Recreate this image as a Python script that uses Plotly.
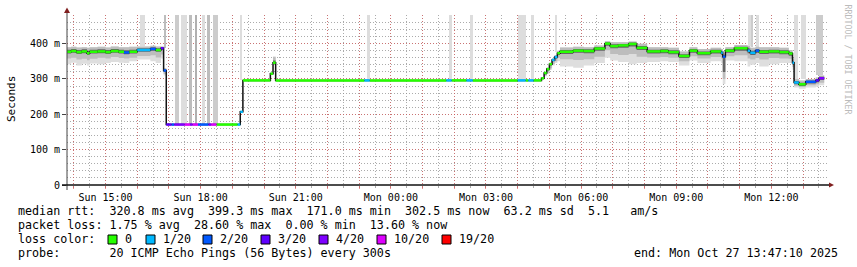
import pandas as pd
import plotly.graph_objects as go

D1 = "2025-10-26 "
D2 = "2025-10-27 "

# ---------------- data (median rtt in ms, loss out of 20, smoke bands in ms) ----------------
times = [D1 + s for s in ["13:45", "13:55", "14:05", "14:15", "14:25", "14:30", "14:45", "15:00", "15:10",
                          "15:25", "15:35", "15:45", "16:00", "16:25", "16:35", "16:45", "16:50", "16:55",
                          "17:05", "17:10", "17:30", "17:40", "17:45", "17:55", "18:15", "18:20", "18:30",
                          "19:10", "19:15", "19:20", "20:12", "20:17", "20:22", "23:10", "23:20"]] + \
        [D2 + s for s in ["01:45", "01:55", "02:23", "02:35", "04:00", "04:15", "04:20", "04:30", "04:45",
                          "04:50", "04:55", "05:00", "05:05", "05:10", "05:15", "05:20", "05:45", "06:05",
                          "06:25", "06:45", "06:55", "07:10", "07:30", "07:45", "08:05", "08:30", "08:45",
                          "09:05", "09:25", "09:40", "10:05", "10:25", "10:28", "10:33", "10:50", "11:15",
                          "11:20", "11:30", "11:37", "11:55", "12:15", "12:33", "12:40", "12:43", "12:52",
                          "13:05", "13:24", "13:30"]]
data_end = D2 + "13:40"

median_ms = [377, 379, 376, 378, 373, 377, 378, 376, 379,
             377, 375, 377, 382, 385, 382, 387, 324, 171,
             171, 171, 171, 171, 171, 171, 171, 171, 171,
             171, 207, 296, 315, 346, 296, 296, 296,
             296, 296, 296, 296, 296, 296, 296, 296, 302,
             317, 328, 342, 354, 362, 373, 377, 380, 379,
             386, 400, 393, 395, 399, 388, 378, 379, 376,
             365, 380, 373, 378, 374, 363, 380, 387, 380,
             374, 380, 377, 378, 376, 372, 346, 290, 285,
             292, 296, 302]

loss = [0, 0, 0, 0, 0, 0, 0, 0, 0,
        0, 2, 0, 1, 2, 0, 3, 2, 3,
        2, 4, 10, 4, 10, 2, 4, 10, 0,
        1, 1, 0, 0, 0, 0, 1, 0,
        1, 0, 1, 0, 1, 0, 1, 0, 0,
        0, 0, 0, 1, 1, 0, 0, 0, 0,
        0, 0, 0, 0, 0, 0, 0, 0, 0,
        0, 0, 0, 0, 1, 2, 0, 0, 1,
        1, 2, 0, 0, 0, 0, 1, 1, 0,
        2, 3, 4]

# highest ping (outer smoke top)
smoke_hi = [390, 391, 389, 390, 388, 390, 391, 389, 392,
            390, 390, 391, 392, 394, 392, 392, 330, 171,
            171, 171, 171, 171, 171, 171, 171, 171, 171,
            171, 207, 296, 318, 363, 296, 296, 296,
            296, 296, 296, 296, 296, 296, 296, 296, 305,
            320, 332, 346, 358, 368, 380, 389, 391, 390,
            395, 407, 404, 404, 406, 400, 390, 390, 388,
            378, 390, 385, 388, 385, 372, 390, 396, 393,
            388, 391, 390, 390, 388, 382, 358, 300, 296,
            300, 304, 310]

# dark core of the smoke (upper / lower edge)
smoke_hi_in = [383, 385, 382, 384, 380, 383, 384, 382, 385,
               383, 381, 383, 387, 390, 387, 390, 327, 171,
               171, 171, 171, 171, 171, 171, 171, 171, 171,
               171, 207, 296, 316, 352, 296, 296, 296,
               296, 296, 296, 296, 296, 296, 296, 296, 303,
               318, 330, 344, 356, 364, 376, 382, 385, 384,
               390, 404, 398, 399, 403, 393, 383, 384, 381,
               370, 385, 378, 383, 379, 367, 385, 391, 386,
               380, 385, 382, 383, 381, 376, 350, 294, 289,
               296, 300, 306]

smoke_in = [372, 374, 371, 373, 368, 372, 373, 371, 374,
            372, 370, 372, 377, 380, 377, 382, 320, 171,
            171, 171, 171, 171, 171, 171, 171, 171, 171,
            171, 207, 296, 315, 346, 296, 296, 296,
            296, 296, 296, 296, 296, 296, 296, 296, 300,
            313, 324, 338, 350, 357, 368, 371, 374, 373,
            380, 394, 387, 388, 392, 382, 372, 373, 370,
            359, 374, 367, 372, 368, 320, 374, 380, 373,
            368, 374, 371, 372, 370, 366, 340, 285, 280,
            287, 291, 297]

smoke_mid = [358, 360, 355, 357, 353, 357, 360, 358, 362,
             359, 358, 360, 365, 367, 361, 369, 314, 171,
             171, 171, 171, 171, 171, 171, 171, 171, 171,
             171, 207, 296, 315, 346, 296, 296, 296,
             296, 296, 296, 296, 296, 296, 296, 296, 299,
             310, 318, 330, 342, 350, 360, 356, 354, 356,
             363, 381, 371, 368, 371, 363, 361, 362, 360,
             350, 364, 358, 362, 358, 300, 364, 367, 358,
             355, 359, 355, 359, 358, 357, 334, 281, 277,
             282, 285, 289]

smoke_out = [342, 346, 338, 343, 338, 344, 342, 345, 348,
             346, 345, 350, 355, 350, 345, 358, 310, 171,
             171, 171, 171, 171, 171, 171, 171, 171, 171,
             171, 207, 296, 315, 346, 296, 296, 296,
             296, 296, 296, 296, 296, 296, 296, 296, 298,
             308, 315, 326, 338, 345, 350, 335, 332, 338,
             345, 360, 352, 348, 342, 345, 348, 350, 348,
             338, 352, 345, 350, 345, 286, 352, 350, 335,
             340, 345, 335, 342, 345, 345, 326, 276, 272,
             276, 278, 282]

# periods with lost pings (drawn as grey columns up to the top of the graph)
lossbar_start = [D1 + s for s in ["16:05", "16:50", "17:12", "17:23", "17:38", "17:49", "18:03", "18:13",
                                  "18:23", "19:15", "23:15"]] + \
                [D2 + s for s in ["01:50", "02:30", "04:00", "04:25", "05:10", "11:15", "11:21", "11:31",
                                  "12:43", "12:57", "13:25"]]
lossbar_end = [D1 + s for s in ["16:15", "16:55", "17:20", "17:34", "17:44", "17:54", "18:09", "18:18",
                                "18:33", "19:18", "23:20"]] + \
              [D2 + s for s in ["01:55", "02:35", "04:15", "04:30", "05:15", "11:21", "11:26", "11:37",
                                "12:50", "13:06", "13:37"]]
lossbar_bottom = [392, 387, 171, 171, 171, 171, 171, 171, 171, 296, 296,
                  296, 296, 296, 296, 375, 392, 390, 391, 300, 300, 310]
lossbar_lost = [1, 3, 2, 1, 3, 4, 1, 3, 2, 1, 1,
                1, 1, 1, 1, 1, 1, 2, 1, 1, 1, 2]

loss_levels = [0, 1, 2, 3, 4, 10, 19]
loss_labels = ["0", "1/20", "2/20", "3/20", "4/20", "10/20", "19/20"]
loss_colors = ["#26ff00", "#00b8ff", "#0059ff", "#5e00ff", "#7e00ff", "#dd00ff", "#ff0000"]

tick_times = [D1 + "15:00", D1 + "18:00", D1 + "21:00", D2 + "00:00",
              D2 + "03:00", D2 + "06:00", D2 + "09:00", D2 + "12:00"]
tick_labels = ["Sun 15:00", "Sun 18:00", "Sun 21:00", "Mon 00:00",
               "Mon 03:00", "Mon 06:00", "Mon 09:00", "Mon 12:00"]

y_tick_vals = [0, 100, 200, 300, 400]
y_tick_labels = ["0", "100 m", "200 m", "300 m", "400 m"]

stats_line1 = "median rtt:  320.8 ms avg  399.3 ms max  171.0 ms min  302.5 ms now  63.2 ms sd  5.1   am/s"
stats_line2 = "packet loss: 1.75 % avg  28.60 % max  0.00 % min  13.60 % now"
probe_line = "probe:       20 ICMP Echo Pings (56 Bytes) every 300s"
end_line = "end: Mon Oct 27 13:47:10 2025"

X_START, X_END = D1 + "13:47:10", D2 + "13:47:10"
Y_MAX = 481

# ---------------- figure ----------------
W, H = 857, 267
L, T, R, B = 67, 15, 828, 185
MONO = "DejaVu Sans Mono"


def px(x):
    return (x - L) / (R - L)


def py(y):
    return (B - y) / (B - T)


def nb(s):
    return s.replace(" ", "\u00a0")


t = list(pd.to_datetime(times))
t_end = pd.Timestamp(data_end)
xs = t + [t_end]


def ext(a):
    return list(a) + [a[-1]]


fig = go.Figure()

# loss columns
shade_for_lost = {1: "#dddddd", 2: "#cccccc", 3: "#bdbdbd", 4: "#b0b0b0"}
bs = pd.to_datetime(lossbar_start)
be = pd.to_datetime(lossbar_end)
fig.add_trace(go.Bar(
    x=[s + (e - s) / 2 for s, e in zip(bs, be)],
    y=[Y_MAX + 20 - b for b in lossbar_bottom],
    base=lossbar_bottom,
    width=[(e - s).total_seconds() * 1000 for s, e in zip(bs, be)],
    marker=dict(color=[shade_for_lost[n] for n in lossbar_lost], line=dict(width=0)),
    hoverinfo="skip",
))

# smoke layers (outer light -> inner dark)
for lo, hi, col in [(smoke_out, smoke_hi, "#dedede"), (smoke_mid, smoke_hi, "#bdbdbd"),
                    (smoke_in, smoke_hi_in, "#646464")]:
    fig.add_trace(go.Scatter(x=xs, y=ext(lo), mode="lines", line=dict(width=0, shape="hv"),
                             hoverinfo="skip"))
    fig.add_trace(go.Scatter(x=xs, y=ext(hi), mode="lines", line=dict(width=0, shape="hv"),
                             fill="tonexty", fillcolor=col, hoverinfo="skip"))

# median step line
fig.add_trace(go.Scatter(x=xs, y=ext(median_ms), mode="lines",
                         line=dict(color="#111111", width=1.5, shape="hv"), hoverinfo="skip"))

# loss-coloured median segments
for lvl, col in zip(loss_levels, loss_colors):
    sx, sy = [], []
    for i, (m, lo_) in enumerate(zip(median_ms, loss)):
        if lo_ == lvl:
            sx += [xs[i], xs[i + 1], None]
            sy += [m, m, None]
    if sx:
        fig.add_trace(go.Scatter(x=sx, y=sy, mode="lines", line=dict(color=col, width=2.5),
                                 hoverinfo="skip"))

# x ticks: every hour (red grid), labels every 3 hours
lab_map = {pd.Timestamp(a): b for a, b in zip(tick_times, tick_labels)}
hours = pd.date_range(D1 + "14:00", D2 + "13:00", freq="h")
red = "rgba(222,79,79,0.6)"
grey = "rgba(143,143,143,0.75)"

fig.update_xaxes(
    type="date", range=[X_START, X_END],
    tickmode="array", tickvals=list(hours), ticktext=[lab_map.get(h, "") for h in hours],
    showgrid=True, gridcolor=red, griddash="1px,2px", gridwidth=1,
    ticks="outside", ticklen=3, tickcolor=red,
    tickfont=dict(family=MONO, size=10, color="#000000"),
    minor=dict(dtick=1800000, tick0=D1 + "00:00", showgrid=True, gridcolor=grey,
               griddash="1px,2px", ticks="outside", ticklen=2, tickcolor=grey),
    showline=False, zeroline=False, fixedrange=True,
)
fig.update_yaxes(
    range=[0, Y_MAX], tickmode="array", tickvals=y_tick_vals, ticktext=y_tick_labels,
    showgrid=True, gridcolor=red, griddash="1px,2px", gridwidth=1,
    ticks="outside", ticklen=4, tickcolor="#444444",
    tickfont=dict(family=MONO, size=10, color="#000000"),
    minor=dict(dtick=20, tick0=0, showgrid=True, gridcolor=grey, griddash="1px,2px"),
    showline=False, zeroline=False, fixedrange=True,
)

shapes = [
    # axes
    dict(type="line", xref="paper", yref="paper", x0=px(67), x1=px(67), y0=py(190), y1=py(11),
         line=dict(color="#444444", width=1)),
    dict(type="line", xref="paper", yref="paper", x0=px(62), x1=px(830), y0=py(185), y1=py(185),
         line=dict(color="#111111", width=1.5)),
    # arrows
    dict(type="path", xref="paper", yref="paper",
         path=f"M {px(64)},{py(13)} L {px(70)},{py(13)} L {px(67)},{py(7.5)} Z",
         fillcolor="#801f1f", line=dict(width=0)),
    dict(type="path", xref="paper", yref="paper",
         path=f"M {px(829)},{py(182.5)} L {px(829)},{py(187.5)} L {px(834)},{py(185)} Z",
         fillcolor="#801f1f", line=dict(width=0)),
]

TXT = 11.7
ann = [
    dict(text="Seconds", x=px(11), y=py(99), textangle=-90, font=dict(family=MONO, size=11)),
    dict(text="RRDTOOL / TOBI OETIKER", x=px(847.5), y=py(60), textangle=90,
         font=dict(family=MONO, size=8.3, color="#bbbbbb")),
    dict(text=nb(stats_line1), x=px(16), y=py(211.5), xanchor="left", font=dict(family=MONO, size=TXT)),
    dict(text=nb(stats_line2), x=px(16), y=py(225.3), xanchor="left", font=dict(family=MONO, size=TXT)),
    dict(text=nb("loss color:"), x=px(16), y=py(239.3), xanchor="left", font=dict(family=MONO, size=TXT)),
    dict(text=nb(probe_line), x=px(16), y=py(253.3), xanchor="left", font=dict(family=MONO, size=TXT)),
    dict(text=nb(end_line), x=px(840), y=py(253.3), xanchor="right", font=dict(family=MONO, size=TXT)),
]

sq_x = [108, 146, 203, 261, 319, 377, 442]
lab_x = [122.5, 160.5, 217.5, 275.5, 333.5, 391.5, 457]
for col, lab, sx_, lx in zip(loss_colors, loss_labels, sq_x, lab_x):
    shapes.append(dict(type="rect", xref="paper", yref="paper", x0=px(sx_), x1=px(sx_ + 9),
                       y0=py(244), y1=py(235), fillcolor=col, line=dict(color="#000000", width=1)))
    ann.append(dict(text=nb(lab), x=px(lx), y=py(239.3), xanchor="left", font=dict(family=MONO, size=TXT)))

for a in ann:
    a.update(xref="paper", yref="paper", showarrow=False, yanchor=a.get("yanchor", "middle"))
    a.setdefault("xanchor", "center")
    a["font"].setdefault("color", "#000000")

fig.update_layout(
    width=W, height=H, autosize=False,
    margin=dict(l=L, r=W - R, t=T, b=H - B, pad=0),
    paper_bgcolor="#ffffff", plot_bgcolor="#ffffff",
    showlegend=False, barmode="overlay", bargap=0,
    shapes=shapes, annotations=ann,
)

fig.write_html("out.html")
